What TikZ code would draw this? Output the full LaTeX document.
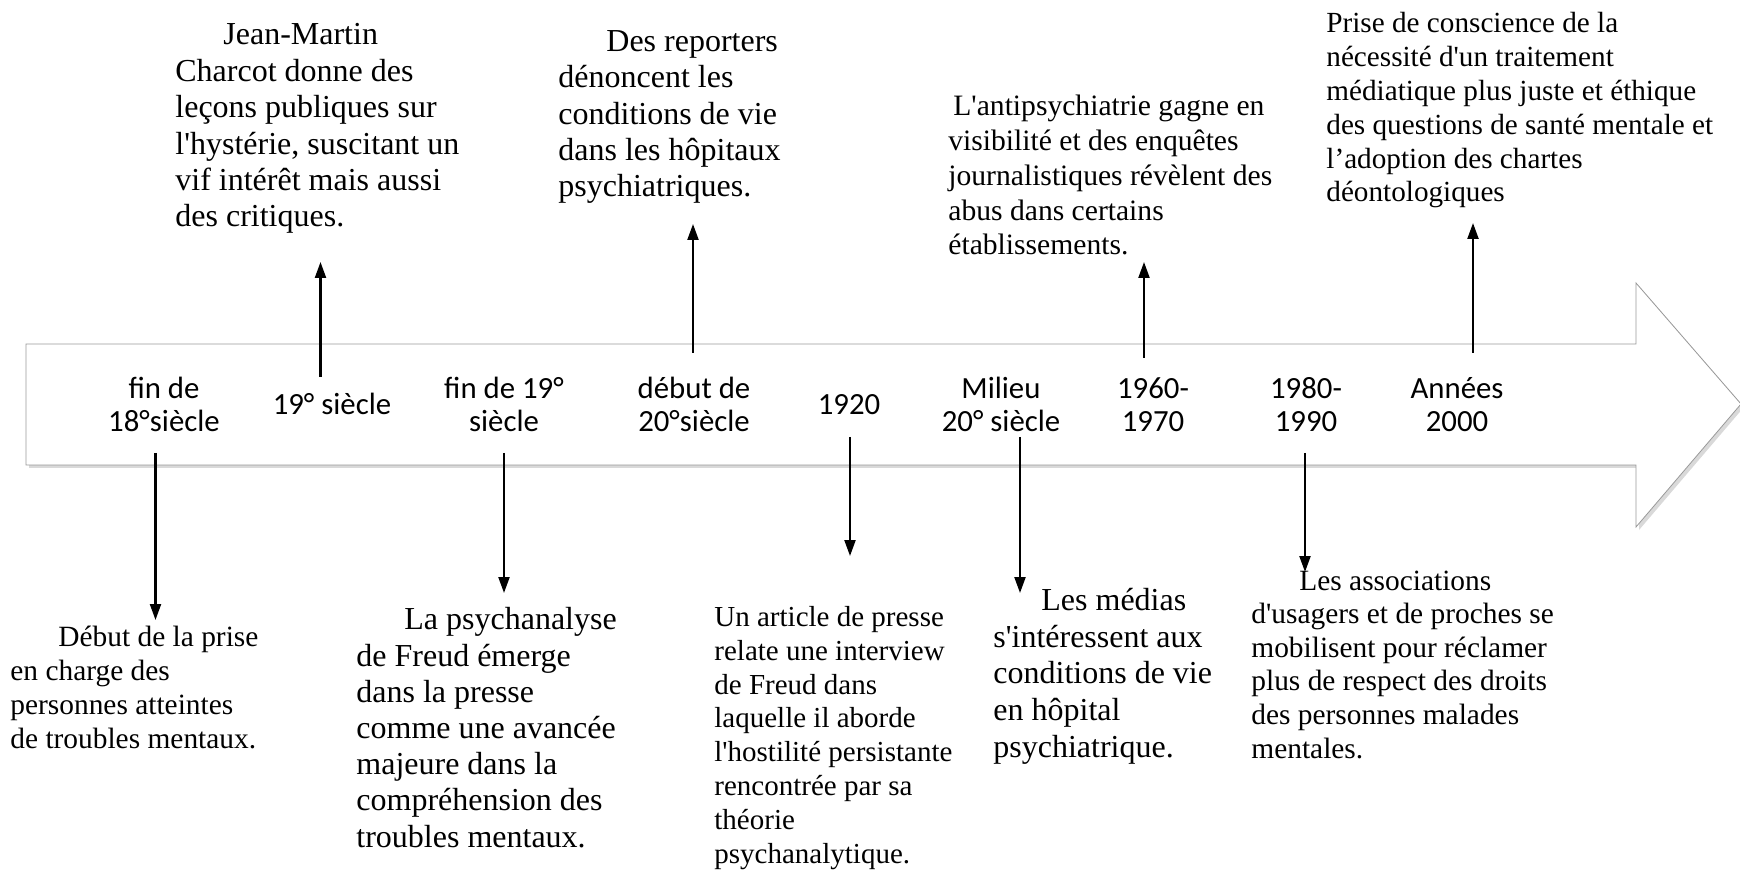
\documentclass[tikz,border=0pt]{standalone}
\usepackage{fontspec}
\setmainfont{Liberation Serif}[Ligatures=TeXOff]
\newfontfamily\calib{Carlito}
\usetikzlibrary{arrows.meta,shadows}

\tikzset{
  evt/.style 2 args={font=\fontsize{#1}{#2}\selectfont, align=left, inner sep=0pt, anchor=base west},
  yr/.style={font=\calib\fontsize{15.4}{16.8}\selectfont, align=center, inner sep=0pt, anchor=base},
  tl/.style={line width=1.1pt, -{Triangle[length=8pt,width=5.5pt]}},
}

\begin{document}
\begin{tikzpicture}[x=0.5pt,y=-0.5pt]
        \useasboundingbox (0,0) rectangle (1740,871);

        \coordinate (b1) at (155.5,453);
        \coordinate (t1) at (155.5,620);
        \coordinate (b2) at (320.5,377);
        \coordinate (t2) at (320.5,262);
        \coordinate (b3) at (504,453);
        \coordinate (t3) at (504,593);
        \coordinate (b4) at (693,353);
        \coordinate (t4) at (693,224);
        \coordinate (b5) at (850,437);
        \coordinate (t5) at (850,556);
        \coordinate (b6) at (1020,437);
        \coordinate (t6) at (1020,593);
        \coordinate (b7) at (1144,358);
        \coordinate (t7) at (1144,262);
        \coordinate (b8) at (1305,453);
        \coordinate (t8) at (1305,572);
        \coordinate (b9) at (1473,353);
        \coordinate (t9) at (1473,223);

        % the big arrow of the timeline
        \draw[draw=black!40, fill=white, drop shadow={shadow xshift=1.5pt, shadow yshift=-1.5pt, opacity=0.3}]
            (26,344)--(1636,344)--(1636,283)--(1741,404)--(1636,527)--(1636,465)--(26,465)--cycle;

        % labels: the anchor is the baseline of the last line
        \node[yr] (y1) at (164,432) {fin de\\18°siècle};
        \node[yr] (y2) at (332,415) {19° siècle};
        \node[yr] (y3) at (504,432) {fin de 19°\\siècle};
        \node[yr] (y4) at (694,432) {début de\\20°siècle};
        \node[yr] (y5) at (849,415) {1920};
        \node[yr] (y6) at (1001,432) {Milieu\\20° siècle};
        \node[yr] (y7) at (1153,432) {1960-\\1970};
        \node[yr] (y8) at (1306,432) {1980-\\1990};
        \node[yr] (y9) at (1457,432) {Années\\2000};

        \node[evt={14.7}{16.9}] (n1) at (10,748) {\hspace*{24pt}Début de la prise\\en charge des\\personnes atteintes\\de troubles mentaux.};
        \node[evt={16}{18.2}] (n2) at (175,227) {\hspace*{24pt}Jean-Martin\\Charcot donne des\\leçons publiques sur\\l'hystérie, suscitant un\\vif intérêt mais aussi\\des critiques.};
        \node[evt={16}{18.1}] (n3) at (356,847) {\hspace*{24pt}La psychanalyse\\de Freud émerge\\dans la presse\\comme une avancée\\majeure dans la\\compréhension des\\troubles mentaux.};
        \node[evt={16}{18.2}] (n4) at (558,197) {\hspace*{24pt}Des reporters\\dénoncent les\\conditions de vie\\dans les hôpitaux\\psychiatriques.};
        \node[evt={14.5}{16.9}] (n5) at (714,863) {Un article de presse\\relate une interview\\de Freud dans\\laquelle il aborde\\l'hostilité persistante\\rencontrée par sa\\théorie\\psychanalytique.};
        \node[evt={16}{18.3}] (n6) at (993,757) {\hspace*{24pt}Les médias\\s'intéressent aux\\conditions de vie\\en hôpital\\psychiatrique.};
        \node[evt={14.8}{17.4}] (n7) at (948,255) {\hspace*{2.5pt}L'antipsychiatrie gagne en\\visibilité et des enquêtes\\journalistiques révèlent des\\abus dans certains\\établissements.};
        \node[evt={14.7}{16.8}] (n8) at (1251,758) {\hspace*{24pt}Les associations\\d'usagers et de proches se\\mobilisent pour réclamer\\plus de respect des droits\\des personnes malades\\mentales.};
        \node[evt={14.6}{16.9}] (n9) at (1326,202) {Prise de conscience de la\\nécessité d'un traitement\\médiatique plus juste et éthique\\des questions de santé mentale et\\l’adoption des chartes\\déontologiques};

        \draw[tl] (b1)--(t1);
        \draw[tl] (b2)--(t2);
        \draw[tl] (b3)--(t3);
        \draw[tl] (b4)--(t4);
        \draw[tl] (b5)--(t5);
        \draw[tl] (b6)--(t6);
        \draw[tl] (b7)--(t7);
        \draw[tl] (b8)--(t8);
        \draw[tl] (b9)--(t9);

\end{tikzpicture}
\end{document}
